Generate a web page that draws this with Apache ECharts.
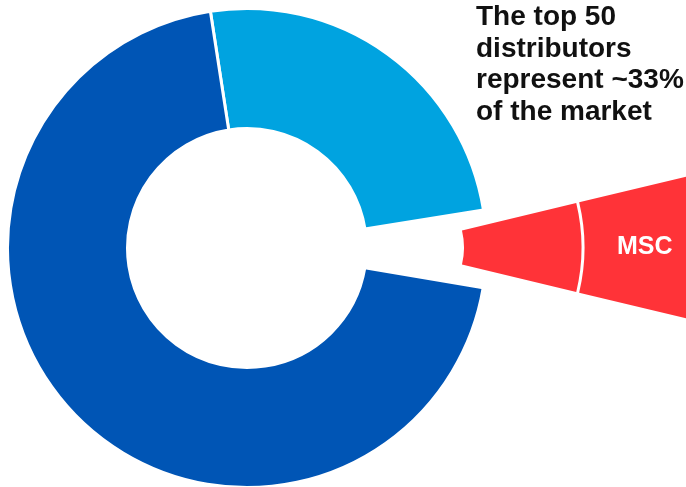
<!DOCTYPE html>
<html><head><meta charset="utf-8">
<script src="https://cdn.jsdelivr.net/npm/echarts@6/dist/echarts.min.js"></script>
<style>html,body{margin:0;padding:0;background:#fff}#c{width:686px;height:487px}</style>
</head><body><div id="c"></div>
<script>
// ---- data ----
const segments = ['Other top 50 distributors', 'MSC', 'Rest of the market'];
const shares = [24.9, 5.2, 69.9];
const calloutLabel = 'MSC';
const headline = ['The top 50', 'distributors', 'represent ~33%', 'of the market'];

// ---- styling / layout ----
const colors = { top50: '#00A3E0', msc: '#FF3338', rest: '#0055B5' };
const WEDGE_SPAN = 27; // degrees of the exploded callout wedge
const hidden = { color: 'rgba(0,0,0,0)', borderWidth: 0 };
const fontFamily = '"Liberation Sans", Arial, Helvetica, sans-serif';

const chart = echarts.init(document.getElementById('c'));
const common = { type: 'pie', clockwise: true, silent: true, labelLine: { show: false }, emphasis: { disabled: true } };

const option = {
  animation: false,
  series: [
    Object.assign({}, common, {
      center: [247, 248], radius: [119.5, 239.5], startAngle: 98.8,
      label: { show: false },
      itemStyle: { borderColor: '#fff', borderWidth: 3 },
      data: [
        { name: segments[0], value: shares[0], itemStyle: { color: colors.top50 } },
        { name: segments[1], value: shares[1], itemStyle: hidden },
        { name: segments[2], value: shares[2], itemStyle: { color: colors.rest } }
      ]
    }),
    Object.assign({}, common, {
      center: [391, 247.5], radius: [73, 190.5], startAngle: WEDGE_SPAN / 2,
      label: { show: false },
      data: [
        { name: segments[1], value: WEDGE_SPAN, itemStyle: { color: colors.msc } },
        { name: 'rest', value: 360 - WEDGE_SPAN, itemStyle: hidden }
      ]
    }),
    Object.assign({}, common, {
      center: [391, 247.5], radius: [193.5, 308], startAngle: WEDGE_SPAN / 2,
      data: [
        { name: segments[1], value: WEDGE_SPAN, itemStyle: { color: colors.msc },
          label: { show: true, position: 'inside', formatter: calloutLabel, color: '#fff',
                   fontWeight: 'bold', fontSize: 25, fontFamily: fontFamily } },
        { name: 'rest', value: 360 - WEDGE_SPAN, itemStyle: hidden, label: { show: false } }
      ]
    })
  ],
  graphic: [{
    type: 'text', left: 476, top: 2,
    style: { text: headline.join('\n'), font: 'bold 28px ' + fontFamily, lineHeight: 31.5, fill: '#111' }
  }]
};
chart.setOption(option);
</script></body></html>
